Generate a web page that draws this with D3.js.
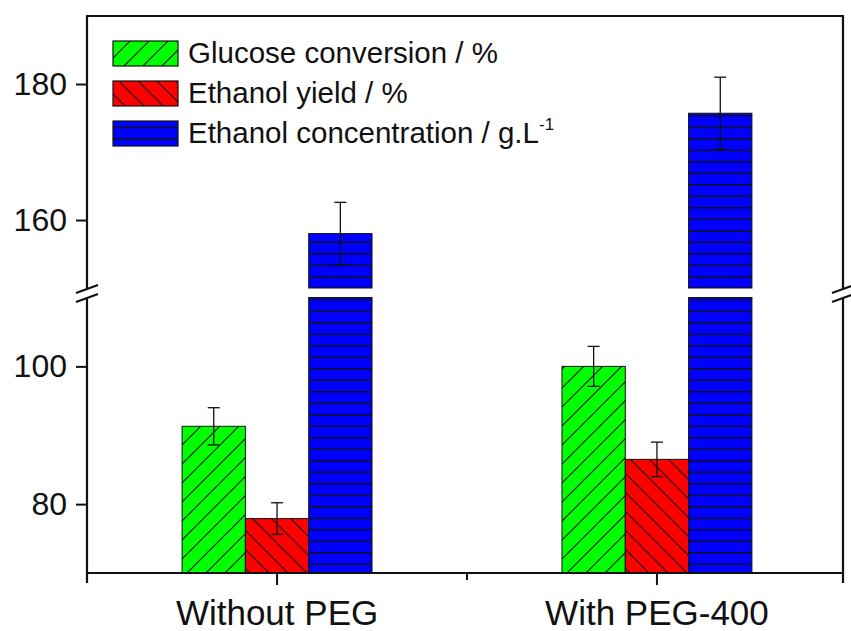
<!DOCTYPE html>
<html>
<head>
<meta charset="utf-8">
<script src="https://cdn.jsdelivr.net/npm/d3@7"></script>
<style>
  html, body { margin: 0; padding: 0; background: #fff; }
  svg text { font-family: "Liberation Sans", Arial, sans-serif; fill: #111; }
</style>
</head>
<body>
<svg id="chart" width="851" height="631"></svg>
<script>
// Data
const categories  = [ 'Without PEG', 'With PEG-400' ];
const seriesNames = [ 'Glucose conversion / %', 'Ethanol yield / %', 'Ethanol concentration / g.L' ];
const glucoseConversion = [ 91.3, 100.0 ];
const glucoseErr        = [ 2.7, 2.9 ];
const ethanolYield      = [ 77.9, 86.5 ];
const yieldErr          = [ 2.3, 2.5 ];
const ethanolConc       = [ 158.0, 175.7 ];
const concErr           = [ 4.6, 5.3 ];
const lowerDomain = [ 70, 110 ];
const upperDomain = [ 150, 190 ];
const lowerTicks  = [ 80, 100 ];
const upperTicks  = [ 160, 180 ];

const fills    = [ '#00ff00', '#ff0000', '#0000ff' ];
const patterns = [ 'hatch-fwd', 'hatch-back', 'hatch-horiz' ];

const svg = d3.select( '#chart' );
const plotL = 87, plotR = 843, plotT = 16, plotB = 573;

// Scales: two stacked y segments with an axis break between them
const yLow = d3.scaleLinear( ).domain( lowerDomain ).range( [ plotB, 297.5 ] );
const yUp  = d3.scaleLinear( ).domain( upperDomain ).range( [ 288, plotT ] );
// groups sit a hair right of centre in the original
const x0 = d3.scaleBand( ).domain( categories ).range( [ plotL + 2, plotR + 2 ] )
  .paddingInner( 0.5 ).paddingOuter( 0.245 );
const x1 = d3.scaleBand( ).domain( d3.range( 3 ) ).range( [ 0, x0.bandwidth( ) ] );

// Patterns
const defs = svg.append( 'defs' );
function makePattern ( id, color, size, draw ) {
  const p = defs.append( 'pattern' )
    .attr( 'id', id ).attr( 'patternUnits', 'userSpaceOnUse' )
    .attr( 'width', size.w ).attr( 'height', size.h );
  p.append( 'rect' ).attr( 'width', size.w ).attr( 'height', size.h ).attr( 'fill', color );
  draw( p );
}
const hs = 19;
makePattern( 'hatch-fwd', fills[0], { w: hs, h: hs }, p => {
  p.append( 'path' ).attr( 'd', `M0,${hs} L${hs},0 M-2,2 L2,-2 M${hs-2},${hs+2} L${hs+2},${hs-2}` )
    .attr( 'stroke', '#1a1a1a' ).attr( 'stroke-width', 1.2 );
} );
makePattern( 'hatch-back', fills[1], { w: hs, h: hs }, p => {
  p.append( 'path' ).attr( 'd', `M0,0 L${hs},${hs} M-2,${hs-2} L2,${hs+2} M${hs-2},-2 L${hs+2},2` )
    .attr( 'stroke', '#1a1a1a' ).attr( 'stroke-width', 1.2 );
} );
makePattern( 'hatch-horiz', fills[2], { w: 20, h: 11.5 }, p => {
  p.append( 'line' ).attr( 'x1', 0 ).attr( 'x2', 20 ).attr( 'y1', 0.7 ).attr( 'y2', 0.7 )
    .attr( 'stroke', '#111' ).attr( 'stroke-width', 1.5 );
} );

// Build rows
const values = [ glucoseConversion, ethanolYield, ethanolConc ];
const errors = [ glucoseErr, yieldErr, concErr ];
const rows = [ ];
categories.forEach( ( c, ci ) => {
  values.forEach( ( v, si ) => rows.push( { cat: c, s: si, value: v[ci], err: errors[si][ci] } ) );
} );

// Bars, one piece per segment
const barG = svg.append( 'g' );
rows.forEach( d => {
  const bx = x0( d.cat ) + x1( d.s );
  const bw = x1.bandwidth( );
  [ [ yLow, lowerDomain ], [ yUp, upperDomain ] ].forEach( ( [ sc, dom ] ) => {
    if ( d.value <= dom[0] ) return;
    const yt = sc( Math.min( d.value, dom[1] ) );
    const yb = sc( dom[0] );
    barG.append( 'rect' )
      .attr( 'x', bx ).attr( 'y', yt ).attr( 'width', bw ).attr( 'height', yb - yt )
      .attr( 'fill', `url(#${patterns[d.s]})` )
      .attr( 'stroke', '#111' ).attr( 'stroke-width', 1 );
  } );
} );

// Error bars
const errG = svg.append( 'g' ).attr( 'stroke', '#111' ).attr( 'stroke-width', 1.3 );
rows.forEach( d => {
  const sc = d.value > upperDomain[0] ? yUp : yLow;
  const cx = x0( d.cat ) + x1( d.s ) + x1.bandwidth( ) / 2;
  const y1 = sc( d.value + d.err ), y2 = sc( d.value - d.err );
  errG.append( 'line' ).attr( 'x1', cx ).attr( 'x2', cx ).attr( 'y1', y1 ).attr( 'y2', y2 );
  [ y1, y2 ].forEach( yy => errG.append( 'line' )
    .attr( 'x1', cx - 6 ).attr( 'x2', cx + 6 ).attr( 'y1', yy ).attr( 'y2', yy ) );
} );

// Axes
const axG = svg.append( 'g' );
function styleAxis ( g ) {
  g.select( '.domain' ).remove( );
  g.selectAll( '.tick line' ).attr( 'stroke', '#111' ).attr( 'stroke-width', 2 );
  g.selectAll( '.tick text' ).style( 'font-size', '32px' ).attr( 'fill', '#111' );
}
axG.append( 'g' ).attr( 'transform', `translate(${plotL},0)` )
  .call( d3.axisLeft( yLow ).tickValues( lowerTicks ).tickSize( 11 ).tickPadding( 9 ) ).call( styleAxis );
axG.append( 'g' ).attr( 'transform', `translate(${plotL},0)` )
  .call( d3.axisLeft( yUp ).tickValues( upperTicks ).tickSize( 11 ).tickPadding( 9 ) ).call( styleAxis );

const xAx = axG.append( 'g' ).attr( 'transform', `translate(0,${plotB})` )
  .call( d3.axisBottom( x0 ).tickSize( 12 ).tickPadding( 15 ) ).call( styleAxis );
xAx.selectAll( '.tick text' ).style( 'font-size', '35px' );
// minor tick between the groups
const midX = ( x0( categories[0] ) + x0( categories[1] ) + x0.bandwidth( ) ) / 2;
axG.append( 'line' ).attr( 'x1', midX ).attr( 'x2', midX ).attr( 'y1', plotB ).attr( 'y2', plotB + 7 )
  .attr( 'stroke', '#111' ).attr( 'stroke-width', 2 );

// Frame with the break on both sides
const gapTop = 289, gapBot = 298;
const frame = axG.append( 'g' ).attr( 'stroke', '#111' ).attr( 'stroke-width', 2.2 ).attr( 'fill', 'none' );
frame.append( 'line' ).attr( 'x1', plotL - 1 ).attr( 'x2', plotR + 1 ).attr( 'y1', plotT ).attr( 'y2', plotT );
frame.append( 'line' ).attr( 'x1', plotL - 1 ).attr( 'x2', plotR + 1 ).attr( 'y1', plotB ).attr( 'y2', plotB );
[ plotL, plotR ].forEach( xx => {
  frame.append( 'line' ).attr( 'x1', xx ).attr( 'x2', xx ).attr( 'y1', plotT ).attr( 'y2', gapTop );
  frame.append( 'line' ).attr( 'x1', xx ).attr( 'x2', xx ).attr( 'y1', gapBot ).attr( 'y2', plotB + 10 );
  [ gapTop, gapBot ].forEach( yy => frame.append( 'line' )
    .attr( 'x1', xx - 11 ).attr( 'x2', xx + 11 ).attr( 'y1', yy + 4 ).attr( 'y2', yy - 4 ) );
} );

// Legend
const legend = svg.append( 'g' );
seriesNames.forEach( ( name, i ) => {
  const ly = 41 + i * 40;
  legend.append( 'rect' ).attr( 'x', 113 ).attr( 'y', ly ).attr( 'width', 65 ).attr( 'height', 25 )
    .attr( 'fill', `url(#${patterns[i]})` ).attr( 'stroke', '#111' ).attr( 'stroke-width', 1.2 );
  const t = legend.append( 'text' ).attr( 'x', 188 ).attr( 'y', ly + 22 )
    .style( 'font-size', '29.5px' ).text( name );
  if ( i === 2 ) t.append( 'tspan' ).attr( 'dy', -13 ).style( 'font-size', '17px' ).text( '-1' );
} );
</script>
</body>
</html>
